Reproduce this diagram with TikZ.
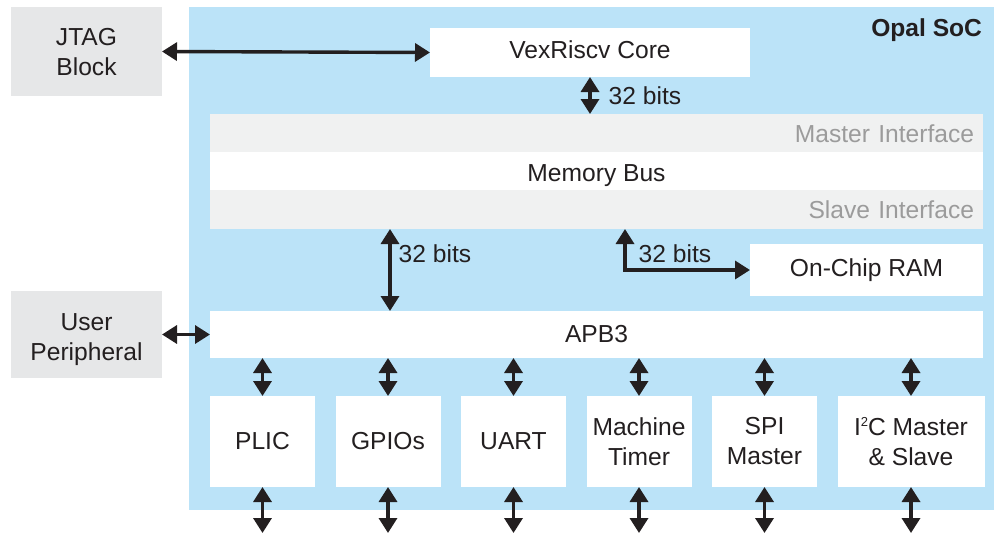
\documentclass[tikz,border=0pt]{standalone}
\usepackage{fontspec}
\setmainfont{Liberation Sans}
\usetikzlibrary{positioning, arrows.meta}
\definecolor{socblue}{HTML}{BBE3F8}
\definecolor{extgray}{HTML}{E6E7E8}
\definecolor{stripgray}{HTML}{F0F1F1}
\definecolor{ink}{HTML}{231F20}
\definecolor{dimtext}{HTML}{9B9B9B}

\begin{document}
\begin{tikzpicture}[x = 0.5pt, y = -0.5pt, font = \fontsize{12.3}{15}\selectfont, text = ink,
	block/.style = {rectangle, fill = white, inner sep = 0pt, outer sep = 0pt, align = center},
	ext/.style = {rectangle, fill = extgray, inner sep = 0pt, outer sep = 0pt, align = center, minimum width = 75.5pt, text depth = 0pt},
	strip/.style = {rectangle, fill = stripgray, text = dimtext, inner xsep = 4.5pt, inner ysep = 0pt, outer sep = 0pt, text width = 377.5pt, align = right, minimum height = 19pt},
	periph/.style = {block, minimum width = 52.5pt, minimum height = 45.5pt},
	bus/.style = {draw = ink, line width = 1.7pt, >={Triangle[width = 9pt, length = 7.5pt]}, <->}]
	\useasboundingbox (0, 0) rectangle (994, 536);
	\node[rectangle, fill = socblue, inner sep = 0pt, minimum width = 402.5pt, minimum height = 251.5pt] (soc) at (591.5, 258.5) {};
	\node[anchor = east, inner sep = 0pt, font = \fontsize{12.3}{15}\selectfont\bfseries] (title) at ([xshift = -6pt, yshift = -12pt]soc.north east) {Opal SoC};
	\node[ext, minimum height = 44.5pt] (jtag) at (86.5, 51.5) {JTAG\\Block};
	\node[ext, minimum height = 43.5pt, text height = 25.8pt] (user) at (86.5, 334.5) {User\\Peripheral};
	\node[block, minimum width = 160pt, minimum height = 24.5pt, text depth = 2.5pt] (core) at (590, 52.5) {VexRiscv Core};
	\node[strip, text height = 9.5pt, text depth = 0pt] (master) at (596.5, 133) {Master Interface};
	\node[block, minimum width = 386.5pt, minimum height = 19pt, text height = 10.8pt, text depth = 0pt] (membus) at (596.5, 171) {Memory Bus};
	\node[strip, minimum height = 19.5pt] (slave) at (596.5, 209.5) {Slave Interface};
	\node[block, minimum width = 116.5pt, minimum height = 26pt] (ram) at (866.5, 270) {On-Chip RAM};
	\node[block, minimum width = 386.5pt, minimum height = 23.5pt] (apb) at (596.5, 334.5) {APB3};
	\node[periph] (plic) at (262.5, 441.5) {PLIC};
	\node[periph, right = 10.25pt of plic] (gpio) {GPIOs};
	\node[periph, right = 10.25pt of gpio] (uart) {UART};
	\node[periph, right = 10.25pt of uart] (mtimer) {Machine\\Timer};
	\node[periph, right = 10.25pt of mtimer] (spi) {SPI\\Master};
	\node[periph, right = 10.25pt of spi, minimum width = 73.5pt] (i2c) {I\raisebox{4.1pt}{\fontsize{6.5}{7}\selectfont 2}C Master\\\& Slave};
	\draw[bus] (jtag.east) -- (core.west);
	\draw[bus] (user.east) -- (apb.west);
	\draw[bus] (core.south) -- (core.south |- master.north) node[midway, right = 8.5pt, inner sep = 0pt] (bitscore) {32 bits};
	\draw[bus] ([xshift = -103.25pt]slave.south) -- ([xshift = -103.25pt]apb.north) node[pos = 0.3, right = 3.5pt, inner sep = 0pt] (bitsapb) {32 bits};
	\draw[bus] ([xshift = 14.25pt]slave.south) |- (ram.west) node[pos = 0.5, anchor = base west, xshift = 6pt, yshift = 4pt, inner sep = 0pt] (bitsram) {32 bits};
	\foreach \p in {plic, gpio, uart, mtimer, spi, i2c} {
		\draw[bus] (\p.north |- apb.south) -- (\p.north);
		\draw[bus] (\p.south) -- ([yshift = -23pt]\p.south);
	}
\end{tikzpicture}
\end{document}
